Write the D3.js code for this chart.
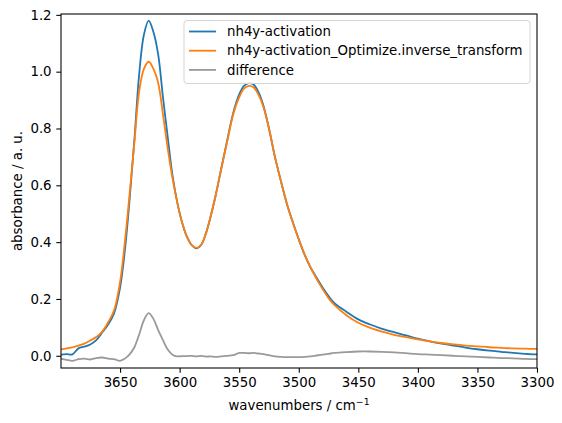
<!DOCTYPE html>
<html>
<head>
<meta charset="utf-8">
<script src="https://cdn.jsdelivr.net/npm/d3@7"></script>
<style>
  body { margin: 0; background: #fff; }
  text { font-family: "DejaVu Sans", sans-serif; }
</style>
</head>
<body>
<svg id="chart" width="562" height="423"></svg>
<script>
// wavenumbers (cm^-1)
var wavenumbers = [3700, 3695, 3690, 3685, 3680, 3675, 3670, 3665, 3660, 3655, 3650, 3646, 3642, 3638, 3634, 3630, 3626, 3622, 3618, 3614, 3610, 3606, 3602, 3598, 3594, 3590, 3586, 3582, 3578, 3574, 3570, 3565, 3560, 3555, 3550, 3546, 3542, 3538, 3534, 3530, 3525, 3520, 3515, 3510, 3505, 3500, 3495, 3490, 3485, 3480, 3475, 3470, 3460, 3450, 3440, 3430, 3420, 3410, 3400, 3390, 3380, 3370, 3360, 3350, 3340, 3330, 3320, 3310, 3300]

var activation = [0.004, 0.006, 0.005, 0.026, 0.032, 0.040, 0.055, 0.082, 0.110, 0.150, 0.240, 0.370, 0.550, 0.760, 0.990, 1.130, 1.180, 1.140, 1.060, 0.910, 0.770, 0.635, 0.540, 0.470, 0.420, 0.390, 0.378, 0.390, 0.430, 0.490, 0.560, 0.660, 0.760, 0.855, 0.920, 0.950, 0.960, 0.955, 0.930, 0.885, 0.800, 0.700, 0.615, 0.535, 0.470, 0.410, 0.355, 0.310, 0.275, 0.240, 0.210, 0.185, 0.155, 0.128, 0.110, 0.095, 0.083, 0.072, 0.060, 0.051, 0.043, 0.036, 0.029, 0.023, 0.018, 0.014, 0.010, 0.007, 0.005]

var inverseTransform = [0.022, 0.026, 0.030, 0.036, 0.043, 0.054, 0.066, 0.085, 0.118, 0.160, 0.260, 0.400, 0.570, 0.750, 0.930, 1.010, 1.035, 1.010, 0.960, 0.850, 0.730, 0.625, 0.540, 0.470, 0.420, 0.390, 0.380, 0.390, 0.430, 0.490, 0.560, 0.660, 0.755, 0.850, 0.910, 0.940, 0.950, 0.945, 0.920, 0.880, 0.800, 0.700, 0.615, 0.535, 0.470, 0.410, 0.355, 0.310, 0.270, 0.235, 0.203, 0.178, 0.143, 0.116, 0.098, 0.085, 0.074, 0.066, 0.058, 0.051, 0.045, 0.040, 0.036, 0.033, 0.030, 0.028, 0.026, 0.025, 0.024]

var difference = [-0.010, -0.014, -0.018, -0.012, -0.010, -0.013, -0.008, -0.006, -0.010, -0.012, -0.018, -0.010, 0.005, 0.030, 0.075, 0.125, 0.150, 0.130, 0.090, 0.055, 0.022, 0.004, -0.002, -0.001, -0.001, 0.000, -0.002, 0.000, -0.003, -0.002, -0.004, -0.002, 0.000, 0.002, 0.010, 0.010, 0.009, 0.010, 0.008, 0.006, 0.002, -0.002, -0.004, -0.005, -0.005, -0.005, -0.004, -0.002, 0.001, 0.004, 0.007, 0.010, 0.013, 0.015, 0.015, 0.014, 0.012, 0.009, 0.006, 0.004, 0.002, 0.000, -0.002, -0.004, -0.006, -0.008, -0.009, -0.011, -0.012]

var seriesNames = ["nh4y-activation", "nh4y-activation_Optimize.inverse_transform", "difference"]
var seriesColors = ["#1f77b4", "#ff7f0e", "#9a9a9a"]

var xTicks = [3650, 3600, 3550, 3500, 3450, 3400, 3350, 3300]
var yTicks = [0.0, 0.2, 0.4, 0.6, 0.8, 1.0, 1.2]

var margin = {left: 61, right: 25, top: 14, bottom: 55}
var width = 562, height = 423
var fs = "13.33px"

var svg = d3.select("#chart")

var x = d3.scaleLinear()
  .domain([3699.6, 3300])
  .range([margin.left, width - margin.right])
var y = d3.scaleLinear()
  .domain([-0.043, 1.203])
  .range([height - margin.bottom, margin.top])

var allSeries = [activation, inverseTransform, difference]

var line = d3.line()
  .x(function (d) { return x(d[0]) })
  .y(function (d) { return y(d[1]) })
  .curve(d3.curveCatmullRom)

svg.append("defs").append("clipPath").attr("id", "clip")
  .append("rect")
  .attr("x", margin.left).attr("y", margin.top)
  .attr("width", width - margin.left - margin.right)
  .attr("height", height - margin.top - margin.bottom)

// draw the three curves
var plot = svg.append("g").attr("clip-path", "url(#clip)")
allSeries.forEach(function (vals, i) {
  plot.append("path")
    .datum(wavenumbers.map(function (w, j) { return [w, vals[j]] }))
    .attr("fill", "none")
    .attr("stroke", seriesColors[i])
    .attr("stroke-width", 1.8)
    .attr("d", line)
})

// axes
var xAxis = svg.append("g")
  .attr("transform", "translate(0," + (height - margin.bottom) + ")")
  .call(d3.axisBottom(x).tickValues(xTicks).tickSize(4.7).tickPadding(4.7).tickFormat(d3.format("d")))
var yAxis = svg.append("g")
  .attr("transform", "translate(" + margin.left + ",0)")
  .call(d3.axisLeft(y).tickValues(yTicks).tickSize(4.7).tickPadding(4.7).tickFormat(d3.format(".1f")))

xAxis.selectAll("text").style("font-size", fs).attr("fill", "#000")
yAxis.selectAll("text").style("font-size", fs).attr("fill", "#000")
svg.selectAll(".domain").remove()
svg.selectAll(".tick line").attr("stroke", "#000").attr("stroke-width", 1.07)

// frame
svg.append("rect")
  .attr("x", margin.left).attr("y", margin.top)
  .attr("width", width - margin.left - margin.right)
  .attr("height", height - margin.top - margin.bottom)
  .attr("fill", "none")
  .attr("stroke", "#000")
  .attr("stroke-width", 1.07)

// axis labels
var xl = svg.append("text")
  .attr("x", (margin.left + width - margin.right) / 2)
  .attr("y", 410)
  .attr("text-anchor", "middle")
  .style("font-size", fs)
xl.append("tspan").text("wavenumbers / cm")
xl.append("tspan").text("\u22121").attr("dy", -5).style("font-size", "9.3px")

svg.append("text")
  .attr("transform", "translate(22," + ((margin.top + height - margin.bottom) / 2) + ") rotate(-90)")
  .attr("text-anchor", "middle")
  .style("font-size", fs)
  .text("absorbance / a. u.")

// legend
var lg = svg.append("g").attr("transform", "translate(184,20.5)")
lg.append("rect")
  .attr("width", 346).attr("height", 63)
  .attr("rx", 3)
  .attr("fill", "#fff").attr("fill-opacity", 0.8)
  .attr("stroke", "#d5d5d5").attr("stroke-width", 1)
seriesNames.forEach(function (name, i) {
  var ly = 11 + i * 19.2
  lg.append("line")
    .attr("x1", 5).attr("x2", 32)
    .attr("y1", ly).attr("y2", ly)
    .attr("stroke", seriesColors[i]).attr("stroke-width", 1.8)
  lg.append("text")
    .attr("x", 43).attr("y", ly + 4.7)
    .style("font-size", fs)
    .text(name)
})
</script>
</body>
</html>
